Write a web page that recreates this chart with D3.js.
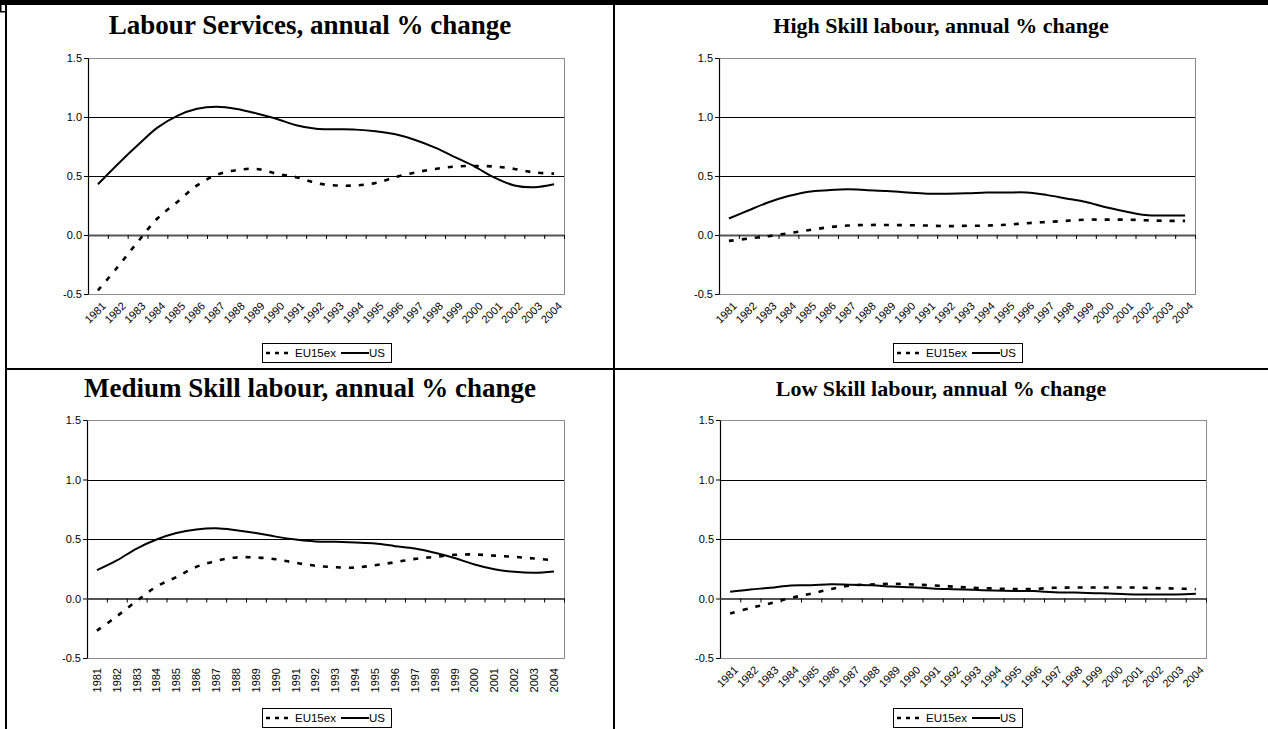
<!DOCTYPE html>
<html><head><meta charset="utf-8">
<script src="https://cdn.jsdelivr.net/npm/d3@7"></script>
<style>body{margin:0;background:#fff}svg{display:block}</style>
</head><body><svg id="c" width="1268" height="729"></svg>
<script>
const years = ["1981","1982","1983","1984","1985","1986","1987","1988","1989","1990","1991","1992",
               "1993","1994","1995","1996","1997","1998","1999","2000","2001","2002","2003","2004"];
const titles = ["Labour Services, annual % change","High Skill labour, annual % change",
                "Medium Skill labour, annual % change","Low Skill labour, annual % change"];
const yTicks = [-0.5, 0, 0.5, 1.0, 1.5];
const seriesNames = ["EU15ex", "US"];

const euServices = [-0.47,-0.27,-0.06,0.14,0.28,0.42,0.51,0.55,0.56,0.52,0.49,0.44,0.42,0.42,0.44,0.49,0.53,0.56,0.58,0.585,0.58,0.56,0.53,0.52];
const usServices = [0.43,0.60,0.76,0.91,1.01,1.07,1.087,1.068,1.03,0.985,0.93,0.90,0.896,0.893,0.88,0.853,0.805,0.74,0.66,0.58,0.486,0.42,0.405,0.43];
const euHigh = [-0.05,-0.03,-0.01,0.015,0.04,0.065,0.08,0.085,0.085,0.083,0.08,0.075,0.078,0.08,0.087,0.10,0.11,0.12,0.13,0.13,0.13,0.125,0.12,0.12];
const usHigh = [0.14,0.21,0.277,0.33,0.367,0.38,0.387,0.38,0.373,0.36,0.35,0.35,0.353,0.36,0.36,0.36,0.34,0.31,0.28,0.235,0.20,0.17,0.165,0.165];
const euMedium = [-0.27,-0.15,-0.02,0.10,0.18,0.266,0.316,0.345,0.345,0.33,0.30,0.275,0.263,0.26,0.28,0.305,0.333,0.35,0.367,0.37,0.36,0.35,0.336,0.322];
const usMedium = [0.238,0.32,0.42,0.496,0.55,0.58,0.59,0.574,0.55,0.52,0.496,0.48,0.476,0.47,0.462,0.44,0.42,0.384,0.34,0.286,0.246,0.224,0.216,0.227];
const euLow = [-0.126,-0.08,-0.04,0.005,0.04,0.08,0.11,0.118,0.123,0.118,0.11,0.10,0.09,0.084,0.08,0.08,0.09,0.092,0.092,0.092,0.092,0.087,0.084,0.078];
const usLow = [0.056,0.076,0.09,0.11,0.112,0.12,0.115,0.112,0.10,0.095,0.084,0.078,0.073,0.067,0.064,0.062,0.053,0.05,0.045,0.04,0.034,0.034,0.034,0.04];

const panels = [
  {title: titles[0], eu: euServices, us: usServices, cx: 310, ty: 34,  tf: 27, x0: 88,  x1: 564,  y0: 58,  y1: 294, rot: -45, legX: 262, legY: 343},
  {title: titles[1], eu: euHigh,     us: usHigh,     cx: 941, ty: 33,  tf: 22, x0: 719, x1: 1195, y0: 58,  y1: 294, rot: -45, legX: 893, legY: 343},
  {title: titles[2], eu: euMedium,   us: usMedium,   cx: 310, ty: 397, tf: 27, x0: 87,  x1: 564,  y0: 420, y1: 658, rot: -90, legX: 262, legY: 708},
  {title: titles[3], eu: euLow,      us: usLow,      cx: 941, ty: 396, tf: 22, x0: 720, x1: 1206, y0: 420, y1: 658, rot: -45, legX: 893, legY: 708}
];

const svg = d3.select("#c");
svg.append("rect").attr("width",1268).attr("height",729).attr("fill","#fff");

const SANS = "'Liberation Sans', Arial, sans-serif";
const SERIF = "'Liberation Serif', 'Times New Roman', serif";
const crisp = v => Math.round(v) + 0.5;

panels.forEach(p => {
  const g = svg.append("g");
  const x = d3.scaleBand().domain(years).range([p.x0, p.x1]).padding(0);
  const xi = d3.scaleLinear().domain([0, years.length]).range([p.x0, p.x1]);
  const y = d3.scaleLinear().domain([-0.5, 1.5]).range([p.y1, p.y0]);
  const cxp = d => x(d) + x.bandwidth()/2;

  g.append("text").attr("x", p.cx).attr("y", p.ty).attr("text-anchor","middle")
    .attr("font-family", SERIF).attr("font-weight","bold").attr("font-size", p.tf).text(p.title);

  g.append("rect").attr("x", crisp(p.x0)).attr("y", crisp(p.y0)).attr("width", p.x1-p.x0).attr("height", p.y1-p.y0)
    .attr("fill","none").attr("stroke","#8c8c8c").attr("stroke-width",1);

  g.selectAll(".grid").data([0.5, 1.0]).join("line")
    .attr("x1", p.x0).attr("x2", p.x1).attr("y1", d=>crisp(y(d))).attr("y2", d=>crisp(y(d)))
    .attr("stroke","#000").attr("stroke-width",1);

  const ya = g.append("g").attr("transform",`translate(${p.x0},0)`)
    .call(d3.axisLeft(y).tickValues(yTicks).tickSize(4).tickSizeOuter(0).tickFormat(d => d.toFixed(1)));
  ya.select(".domain").attr("stroke","#000").attr("stroke-width",1.2);
  ya.selectAll(".tick line").attr("stroke","#000");
  ya.selectAll("text").attr("font-family", SANS).attr("font-size", 11).attr("fill","#000").attr("x",-6);

  const xa = g.append("g").attr("transform",`translate(0,${y(0)})`)
    .call(d3.axisBottom(xi).tickValues(d3.range(1, years.length+1)).tickSize(4).tickSizeOuter(0).tickFormat(""));
  xa.select(".domain").attr("stroke","#555").attr("stroke-width",1.8);
  xa.selectAll(".tick line").attr("stroke","#000");

  const la = g.append("g").attr("transform",`translate(0,${p.y1})`)
    .call(d3.axisBottom(x).tickSize(0).tickSizeOuter(0));
  la.select(".domain").remove();
  const lt = la.selectAll("text").attr("font-family", SANS).attr("font-size", 11).attr("fill","#000");
  if (p.rot === -90) {
    lt.attr("text-anchor","end").attr("transform","translate(0,10) rotate(-90)").attr("x",0).attr("y",0).attr("dy","0.35em");
  } else {
    lt.attr("text-anchor","end").attr("transform","translate(6,10) rotate(-45)").attr("x",0).attr("y",0).attr("dy","0.35em");
  }

  const line = d3.line().x((d,i) => cxp(years[i])).y(d => y(d)).curve(d3.curveCatmullRom.alpha(0.5));
  g.append("path").datum(p.us).attr("d", line).attr("fill","none").attr("stroke","#000").attr("stroke-width",2);
  g.append("path").datum(p.eu).attr("d", line).attr("fill","none").attr("stroke","#000")
    .attr("stroke-width",2.6).attr("stroke-dasharray","5,8");

  const lg = g.append("g").attr("transform",`translate(${p.legX},${p.legY})`);
  lg.append("rect").attr("x",0.5).attr("y",0.5).attr("width",129).attr("height",19)
    .attr("fill","#fff").attr("stroke","#000").attr("stroke-width",1);
  lg.append("line").attr("x1",4).attr("x2",31).attr("y1",10).attr("y2",10)
    .attr("stroke","#000").attr("stroke-width",2.6).attr("stroke-dasharray","4,5");
  lg.append("text").attr("x",33).attr("y",14).attr("font-family",SANS).attr("font-size",11.5).text(seriesNames[0]);
  lg.append("line").attr("x1",79).attr("x2",107).attr("y1",10).attr("y2",10)
    .attr("stroke","#000").attr("stroke-width",2);
  lg.append("text").attr("x",107).attr("y",14).attr("font-family",SANS).attr("font-size",11.5).text(seriesNames[1]);
});

const B = svg.append("g").attr("fill","#000");
B.append("rect").attr("x",0).attr("y",0).attr("width",1268).attr("height",5);
B.append("rect").attr("x",5).attr("y",0).attr("width",2).attr("height",729);
B.append("rect").attr("x",613).attr("y",0).attr("width",2).attr("height",729);
B.append("rect").attr("x",5).attr("y",368).attr("width",1263).attr("height",2);
B.append("rect").attr("x",0).attr("y",0).attr("width",1.5).attr("height",12);
B.append("rect").attr("x",0).attr("y",11).attr("width",5).attr("height",1.5);
</script></body></html>
